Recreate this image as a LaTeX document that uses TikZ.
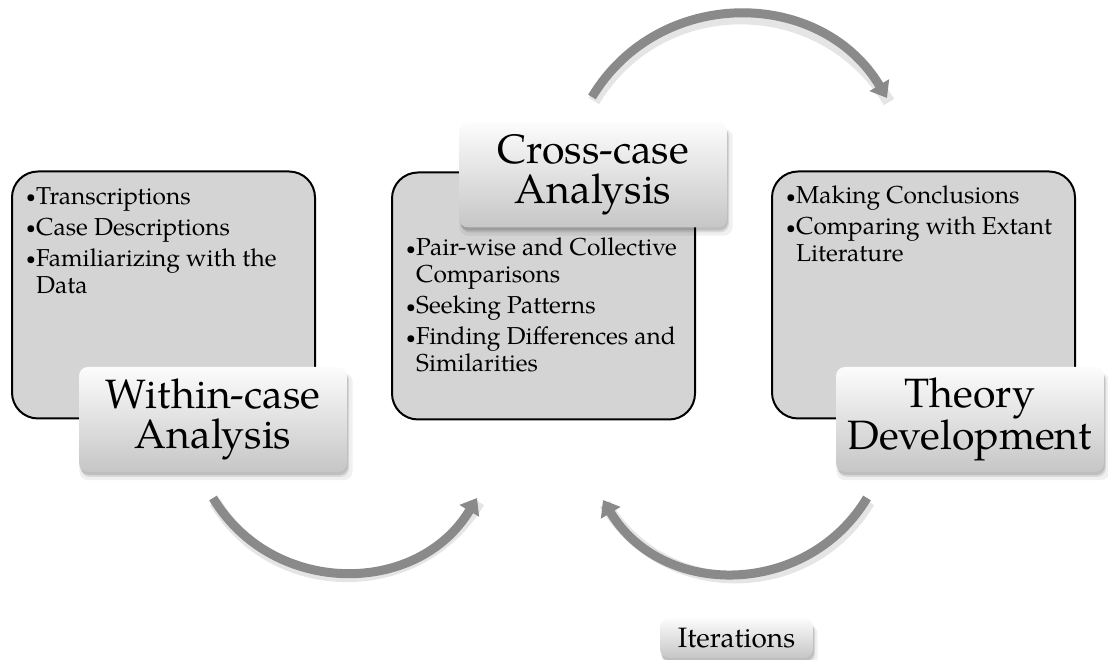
\documentclass[tikz,border=0pt]{standalone}
\usepackage{fontspec}
\setmainfont{TeX Gyre Pagella}
\usetikzlibrary{arrows.meta,shadows}
\definecolor{boxgray}{RGB}{212,212,212}
\definecolor{arrowgray}{RGB}{138,138,138}
\definecolor{titletop}{RGB}{252,252,252}
\definecolor{titlebot}{RGB}{198,198,198}
\newcommand{\bul}{\makebox[10pt][l]{\raisebox{1.2pt}{\scalebox{0.7}{\textbullet}}}}
\newcommand{\ind}{\hspace*{10pt}}
\begin{document}
\begin{tikzpicture}[x=1pt,y=1pt,
  panel/.style={draw=black, line width=2pt, fill=boxgray, rounded corners=26pt,
    minimum width=303pt, minimum height=247pt, inner sep=0pt},
  bullets/.style={anchor=north west, inner sep=0pt, align=left,
    font=\fontsize{24.5}{27}\selectfont},
  titlebox/.style={rounded corners=9pt, top color=titletop, bottom color=titlebot,
    minimum width=268pt, minimum height=105pt, inner sep=0pt, align=center,
    font=\fontsize{41}{40}\selectfont,
    general shadow={fill=black, opacity=0.06, shadow xshift=3pt, shadow yshift=-7pt, shadow scale=1.02},
    general shadow={fill=black, opacity=0.10, shadow xshift=2pt, shadow yshift=-5pt},
    general shadow={fill=black, opacity=0.12, shadow xshift=1pt, shadow yshift=-3pt}},
  smalltitle/.style={titlebox, minimum width=153pt, minimum height=40pt,
    font=\fontsize{28}{30}\selectfont},
  flow/.style={draw=arrowgray, line width=9pt, -{Triangle[width=22pt,length=15pt]},
    looseness=1.12},
  flowshadow/.style={draw=black, opacity=0.10, line width=12pt, looseness=1.12,
    transform canvas={xshift=2pt,yshift=-4pt}}
]
\useasboundingbox (0,0) rectangle (1108,660);

% panels
\node[panel] (wpanel) at (163.5,365) {};
\node[panel] (cpanel) at (543.5,364) {};
\node[panel] (tpanel) at (923.5,365) {};

% bullet texts
\node[bullets] (wtext) at (26,473) {\bul Transcriptions\\[4pt]
  \bul Case Descriptions\\[4pt]
  \bul Familiarizing with the\\ \ind Data};
\node[bullets] (ctext) at (406,422) {\bul Pair-wise and Collective\\ \ind Comparisons\\[4pt]
  \bul Seeking Patterns\\[4pt]
  \bul Finding Differences and\\ \ind Similarities};
\node[bullets] (ttext) at (786,474) {\bul Making Conclusions\\[4pt]
  \bul Comparing with Extant\\ \ind Literature};

% title boxes
\node[titlebox] (wtitle) at (213,240.5) {Within-case\\Analysis};
\node[titlebox] (ctitle) at (593,485) {Cross-case\\Analysis};
\node[titlebox] (ttitle) at (970,240.5) {Theory\\Development};
\node[smalltitle] (iter) at (736.5,22) {Iterations};

% arrows
\coordinate (t1) at (592,563);
\coordinate (t2) at (887,562);
\coordinate (l1) at (213,162);
\coordinate (l2) at (477,162);
\coordinate (r1) at (867,162);
\coordinate (r2) at (603,160);

\draw[flowshadow] (t1) to[out=59,in=121] (t2);
\draw[flowshadow] (l1) to[out=-59,in=-121] (l2);
\draw[flowshadow] (r1) to[out=-121,in=-59] (r2);
\draw[flow] (t1) to[out=59,in=121] (t2);
\draw[flow] (l1) to[out=-59,in=-121] (l2);
\draw[flow] (r1) to[out=-121,in=-59] (r2);
\end{tikzpicture}
\end{document}
